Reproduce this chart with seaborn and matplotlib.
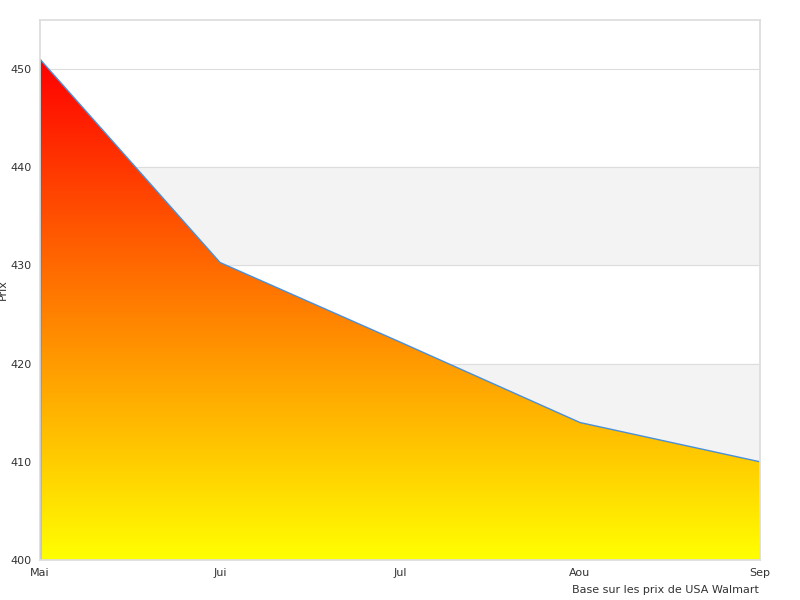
import numpy as np
import pandas as pd
import matplotlib
matplotlib.use("Agg")
import matplotlib.pyplot as plt
import seaborn as sns
from matplotlib.colors import LinearSegmentedColormap

months = ["Mai", "Jui", "Jul", "Aou", "Sep"]
prices = [451.0, 430.3, 422.2, 414.0, 410.0]

sns.set_theme(style="white")
plt.rcParams['font.family'] = ['DejaVu Sans']
fig = plt.figure(figsize=(8, 6), dpi=100)
ax = fig.add_axes([0.05, 0.0667, 0.9, 0.9])
df = pd.DataFrame({"m": range(len(months)), "p": prices})

for lo in (410, 430):
    ax.axhspan(lo, lo + 10, color="#f3f3f3", zorder=0)
for y in range(400, 451, 10):
    ax.axhline(y, color="#dddddd", lw=0.8, zorder=0.5)

poly = ax.fill_between(df["m"], 400, df["p"], color="none", zorder=1)
cmap = LinearSegmentedColormap.from_list("ry", ["#ffff00", "#ff0000"])
grad = np.linspace(0, 1, 256).reshape(-1, 1)
im = ax.imshow(grad, cmap=cmap, origin="lower", aspect="auto",
               extent=[0, len(months) - 1, 400, max(prices)], zorder=1)
path = poly.get_paths()[0]
im.set_clip_path(path, transform=ax.transData)
sns.lineplot(data=df, x="m", y="p", ax=ax, color="#4a90d9", lw=1, zorder=2)
ax.plot([0, 0], [400, prices[0]], color="#555555", lw=1, zorder=2)

ax.set_xlim(0, len(months) - 1)
ax.set_ylim(400, 455)
ax.set_xticks(range(len(months)))
ax.set_xticklabels(months)
ax.set_yticks(range(400, 451, 10))
ax.tick_params(labelsize=8, colors="#333333", length=0, pad=6)
ax.set_xlabel("")
ax.set_ylabel("Prix", fontsize=8, color="#333333", labelpad=2)
for s in ax.spines.values():
    s.set_color("#dddddd")
fig.text(0.948, 0.008, "Base sur les prix de USA Walmart", ha="right", va="bottom",
         fontsize=8, color="#333333")
fig.savefig("out.png", dpi=100)
